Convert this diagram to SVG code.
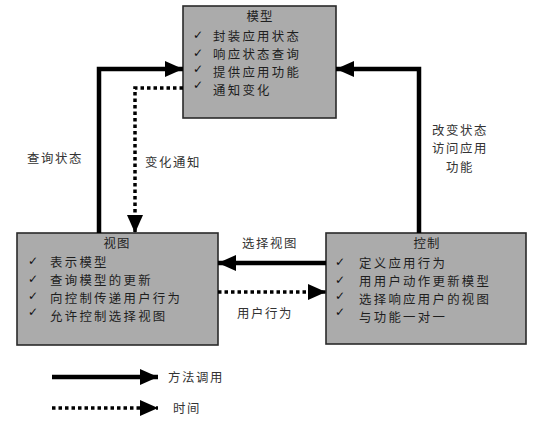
<svg xmlns="http://www.w3.org/2000/svg" width="540" height="425" viewBox="0 0 540 425">
<defs>
<style>
.box{fill:#ababab;stroke:#2a2a2a;stroke-width:1.6}
.t{font-family:"Noto Sans CJK SC","Liberation Sans",sans-serif;font-size:12.4px;letter-spacing:2.3px;fill:#1e1e1e}
.title{text-anchor:middle;letter-spacing:1px}
.ck{font-family:"DejaVu Sans",sans-serif;font-size:12px;fill:#111}
.lbl{font-family:"Noto Sans CJK SC","Liberation Sans",sans-serif;font-size:12.4px;letter-spacing:1.6px;fill:#333}
.solid{fill:none;stroke:#000;stroke-width:4.5}
.dot{fill:none;stroke:#000;stroke-width:3.5;stroke-dasharray:3.5 3}
</style>
<marker id="ah" viewBox="0 0 18 16" refX="18" refY="8" markerWidth="18" markerHeight="16" markerUnits="userSpaceOnUse" orient="auto">
<path d="M0,0 L18,8 L0,16 Z" fill="#000"/>
</marker>
</defs>
<rect width="540" height="425" fill="#fff"/>

<g id="model">
<rect class="box" x="183" y="6" width="153" height="112"/>
<text class="t title" x="260" y="20.5">模型</text>
<text class="ck" x="193" y="39">✓</text><text class="t" x="213" y="40.5">封装应用状态</text>
<text class="ck" x="193" y="57">✓</text><text class="t" x="213" y="58.5">响应状态查询</text>
<text class="ck" x="193" y="73">✓</text><text class="t" x="213" y="76.5">提供应用功能</text>
<text class="ck" x="193" y="89">✓</text><text class="t" x="213" y="94.5">通知变化</text>
</g>

<g id="view">
<rect class="box" x="17" y="233" width="201" height="112"/>
<text class="t title" x="117" y="247.5">视图</text>
<text class="ck" x="28" y="265">✓</text><text class="t" x="50" y="266.5">表示模型</text>
<text class="ck" x="28" y="283">✓</text><text class="t" x="50" y="284.5">查询模型的更新</text>
<text class="ck" x="28" y="300">✓</text><text class="t" x="50" y="302.5">向控制传递用户行为</text>
<text class="ck" x="28" y="316">✓</text><text class="t" x="50" y="320.5">允许控制选择视图</text>
</g>

<g id="control">
<rect class="box" x="326" y="233" width="200" height="111"/>
<text class="t title" x="427" y="247.5">控制</text>
<text class="ck" x="335" y="266">✓</text><text class="t" x="359" y="267.5">定义应用行为</text>
<text class="ck" x="335" y="284">✓</text><text class="t" x="359" y="285.5">用用户动作更新模型</text>
<text class="ck" x="335" y="300">✓</text><text class="t" x="359" y="303.5">选择响应用户的视图</text>
<text class="ck" x="335" y="316">✓</text><text class="t" x="359" y="321.5">与功能一对一</text>
</g>

<g id="connectors">
<path class="solid" d="M99,233 L99,69 L183,69" marker-end="url(#ah)"/>
<path class="dot" d="M183,88 L135,88 L135,233" marker-end="url(#ah)"/>
<path class="solid" d="M419,233 L419,69 L336,69" marker-end="url(#ah)"/>
<path class="solid" d="M326,263 L218,263" marker-end="url(#ah)"/>
<path class="dot" d="M218,292 L326,292" marker-end="url(#ah)"/>
<text class="lbl" x="27" y="162.5">查询状态</text>
<text class="lbl" x="145" y="166.5">变化通知</text>
<text class="lbl" x="460" y="134.5" text-anchor="middle">改变状态</text>
<text class="lbl" x="460" y="152.5" text-anchor="middle">访问应用</text>
<text class="lbl" x="460" y="171.5" text-anchor="middle">功能</text>
<text class="lbl" x="270" y="247.5" text-anchor="middle">选择视图</text>
<text class="lbl" x="265" y="317.5" text-anchor="middle">用户行为</text>
</g>

<g id="legend">
<path class="solid" d="M52,377 L158,377" marker-end="url(#ah)"/>
<path class="dot" d="M52,408 L158,408" marker-end="url(#ah)"/>
<text class="lbl" x="168" y="381.5">方法调用</text>
<text class="lbl" x="173" y="412.5">时间</text>
</g>
</svg>
